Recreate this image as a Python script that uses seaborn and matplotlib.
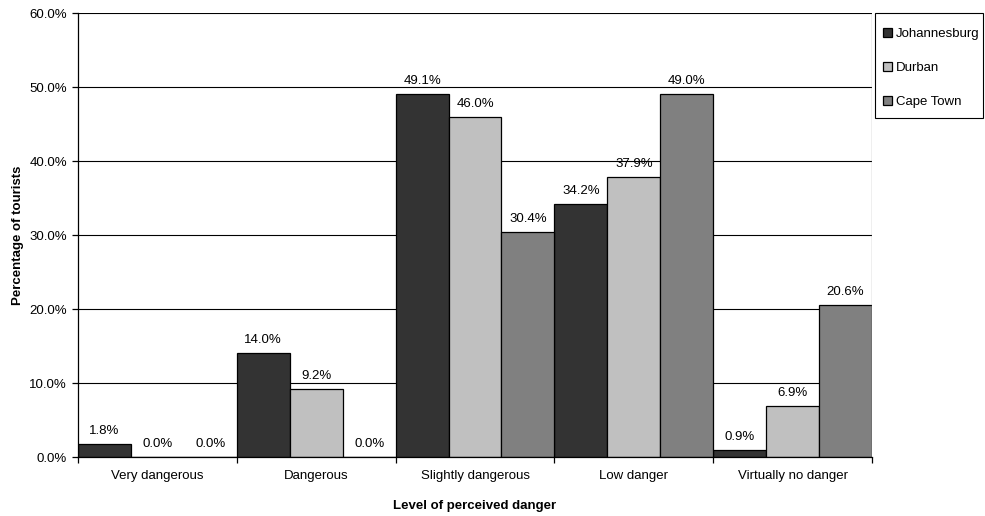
import matplotlib
matplotlib.use("Agg")
import matplotlib.pyplot as plt
import matplotlib.ticker as mticker
from matplotlib.patches import Rectangle
import seaborn as sns
import pandas as pd

categories = ["Very dangerous", "Dangerous", "Slightly dangerous", "Low danger", "Virtually no danger"]
cities = ["Johannesburg", "Durban", "Cape Town"]
johannesburg = [1.8, 14.0, 49.1, 34.2, 0.9]
durban = [0.0, 9.2, 46.0, 37.9, 6.9]
cape_town = [0.0, 0.0, 30.4, 49.0, 20.6]
colors = ["#333333", "#c0c0c0", "#808080"]

rows = []
for city, vals in zip(cities, [johannesburg, durban, cape_town]):
    for cat, v in zip(categories, vals):
        rows.append({"Level": cat, "City": city, "Pct": v})
df = pd.DataFrame(rows)

sns.set_theme(style="white")
plt.rcParams["font.family"] = ["Liberation Sans", "DejaVu Sans"]
plt.rcParams.update({"text.color": "black", "axes.labelcolor": "black",
                     "xtick.color": "black", "ytick.color": "black"})

FS = 9.5
W, H = 985, 516

fig = plt.figure(figsize=(W / 100, H / 100), dpi=100)
ax = fig.add_axes([0.0792, 0.1143, 0.8061, 0.8605])

sns.barplot(data=df, x="Level", y="Pct", hue="City", order=categories,
            hue_order=cities, palette=colors, width=1.0, gap=0,
            edgecolor="black", linewidth=0.9, saturation=1, ax=ax,
            errorbar=None, legend=True)

for cont in ax.containers:
    ax.bar_label(cont, fmt="%.1f%%", padding=5, fontsize=FS, color="black")

ax.set_ylim(0, 60)
ax.set_xlim(-0.5, 4.5)
ax.yaxis.set_major_locator(mticker.MultipleLocator(10))
ax.yaxis.set_major_formatter(mticker.FuncFormatter(lambda v, p: f"{v:.1f}%"))
ax.grid(axis="y", color="black", linewidth=0.8)
ax.set_axisbelow(True)

for side in ["top", "right"]:
    ax.spines[side].set_visible(False)
for side in ["left", "bottom"]:
    ax.spines[side].set_color("black")
    ax.spines[side].set_linewidth(0.9)
ax.axvline(4.5, color="#808080", linewidth=0.9)

ax.tick_params(axis="y", which="major", left=True, length=4, width=0.9,
               pad=4, labelsize=FS, color="black", labelcolor="black")
ax.tick_params(axis="x", which="major", bottom=False, length=0, pad=9,
               labelsize=FS, labelcolor="black")
ax.set_xticks([-0.5, 0.5, 1.5, 2.5, 3.5, 4.5], minor=True)
ax.tick_params(axis="x", which="minor", bottom=True, length=4, width=0.9,
               color="black")

ax.set_xlabel("Level of perceived danger", fontsize=FS, fontweight="bold",
              labelpad=13, color="black")
ax.set_ylabel("Percentage of tourists", fontsize=FS, fontweight="bold",
              labelpad=4, color="black")

# legend entries placed inside a separately drawn box to the right of the plot
handles, labels = ax.get_legend_handles_labels()
ax.legend_.remove()
fig.legend(handles, labels, loc="upper left",
           bbox_to_anchor=(883 / W, 1 - 28 / H),
           fontsize=FS, frameon=False, labelspacing=1.68, handlelength=0.65,
           handleheight=0.65, handletextpad=0.3, borderpad=0, borderaxespad=0)
fig.patches.append(Rectangle((875 / W, 1 - 118 / H), 108 / W, 105 / H,
                             transform=fig.transFigure, fill=False,
                             edgecolor="black", linewidth=0.8))

fig.savefig("out.png", dpi=100)
